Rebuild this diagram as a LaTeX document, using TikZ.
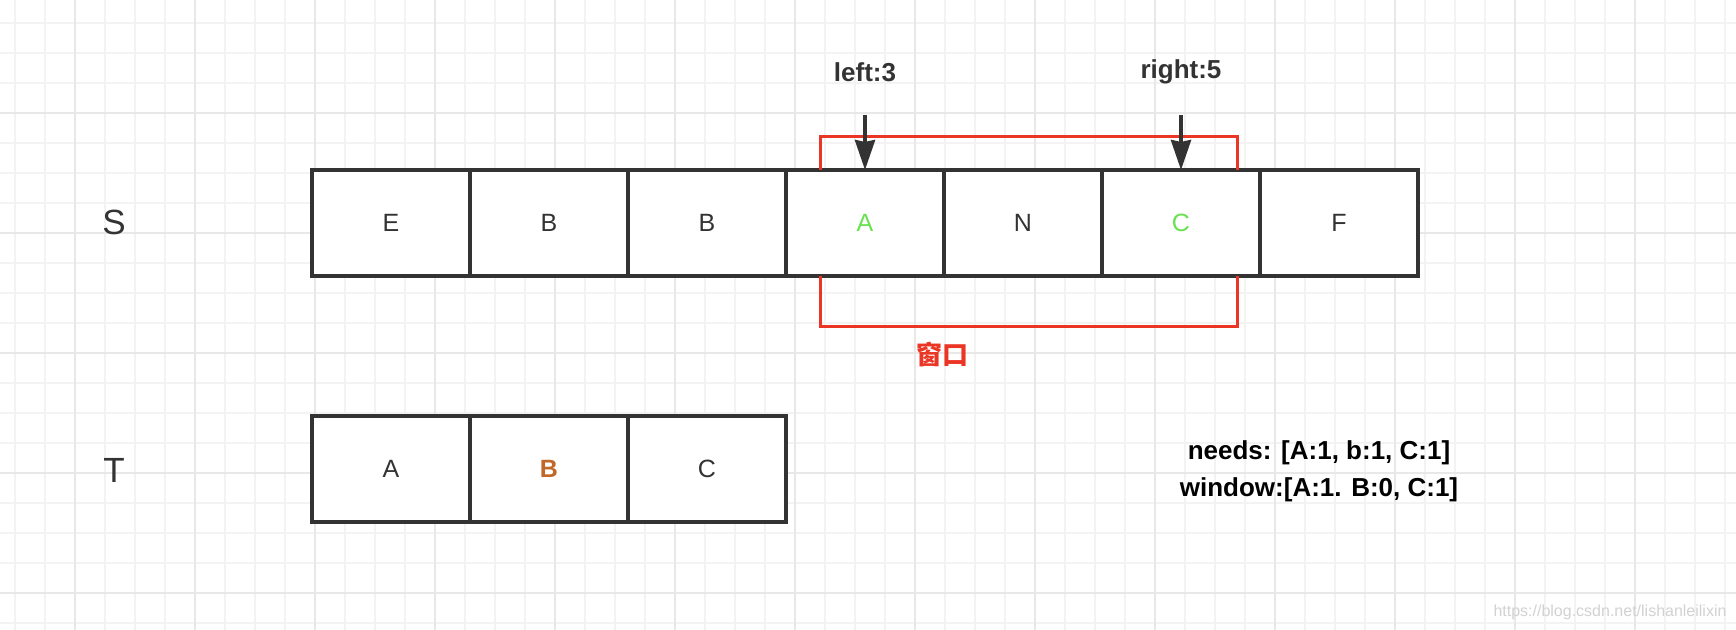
\documentclass[tikz,border=0pt]{standalone}
\usepackage{fontspec}
\setmainfont{Liberation Sans}
\newfontfamily\cjk{Noto Sans CJK SC}
\usetikzlibrary{positioning,arrows.meta}
\definecolor{inkgray}{RGB}{51,51,51}
\definecolor{winred}{RGB}{235,54,38}
\definecolor{hitgreen}{RGB}{104,226,80}
\definecolor{needorange}{RGB}{192,104,40}
\definecolor{gridminor}{RGB}{243,243,243}
\definecolor{gridmajor}{RGB}{232,232,232}
\tikzset{
  cellNode/.style = {draw=inkgray, line width=1.6pt, fill=white,
    minimum width=79pt, minimum height=53pt, inner sep=0pt, outer sep=0pt,
    text=inkgray, font=\fontsize{12.5}{15}\selectfont},
  rowLabel/.style = {text=inkgray, font=\fontsize{17.5}{20}\selectfont},
  ptrLabel/.style = {text=inkgray, font=\bfseries\fontsize{13}{15}\selectfont},
  ptrArrow/.style = {draw=inkgray, line width=1.8pt,
    -{Stealth[length=15pt,width=10pt,inset=1pt]}},
  winLine/.style = {draw=winred, line width=1.5pt},
  % papier quadrille
  gridMinor/.style = {draw=gridminor, line width=1pt},
  gridMajor/.style = {draw=gridmajor, line width=1pt}
}

\begin{document}
\begin{tikzpicture}[x=0.5pt, y=-0.5pt]
\useasboundingbox (0,0) rectangle (1736,630);
\fill[white] (0,0) rectangle (1736,630);
\foreach \gx in {15,45,...,1725} \draw[gridMinor] (\gx,0) -- (\gx,630);
\foreach \gy in {23,53,...,623} \draw[gridMinor] (0,\gy) -- (1736,\gy);
\foreach \gx in {75,195,...,1635} \draw[gridMajor] (\gx,0) -- (\gx,630);
\foreach \gy in {113,233,...,593} \draw[gridMajor] (0,\gy) -- (1736,\gy);

% chaine S
\node[cellNode] (s0) at (391,223) {E};
\node[cellNode, right=0pt of s0] (s1) {B};
\node[cellNode, right=0pt of s1] (s2) {B};
\node[cellNode, right=0pt of s2, text=hitgreen] (s3) {A};
\node[cellNode, right=0pt of s3] (s4) {N};
\node[cellNode, right=0pt of s4, text=hitgreen] (s5) {C};
\node[cellNode, right=0pt of s5] (s6) {F};
% chaine T
\node[cellNode] (t0) at (391,469) {A};
\node[cellNode, right=0pt of t0, text=needorange, font=\bfseries\fontsize{12.5}{15}\selectfont] (t1) {B};
\node[cellNode, right=0pt of t1] (t2) {C};

\node[rowLabel] (sLbl) at (114,222) {S};
\node[rowLabel] (tLbl) at (114,470) {T};

% fenetre
\coordinate (winTL) at (820,137);
\coordinate (winTR) at (1237,137);
\coordinate (winBL) at (820,327);
\coordinate (winBR) at (1237,327);
\draw[winLine] (winTL |- s3.north) -- (winTL) -- (winTR) -- (winTR |- s5.north);
\draw[winLine] (winBL |- s3.south) -- (winBL) -- (winBR) -- (winBR |- s5.south);
\node[text=winred, font=\cjk\bfseries\fontsize{13}{15}\selectfont] (winLbl) at (942,355) {窗口};

% pointeurs
\node[ptrLabel] (leftLbl) at (865,72) {left:3};
\node[ptrLabel] (rightLbl) at (1181,72) {right:5};
\coordinate (leftTop) at (865,115);
\coordinate (rightTop) at (1181,115);
\draw[ptrArrow] (leftTop) -- (s3.north);
\draw[ptrArrow] (rightTop) -- (s5.north);

\node[align=center, font=\bfseries\fontsize{13}{18.5}\selectfont] (state) at (1319,471)
  {needs: [A:1, b:1, C:1]\\window:[A:1. B:0, C:1]};
\node[text=gray!35, font=\fontsize{8}{9}\selectfont] (mark) at (1610,612)
  {https://blog.csdn.net/lishanleilixin};
\end{tikzpicture}
\end{document}
